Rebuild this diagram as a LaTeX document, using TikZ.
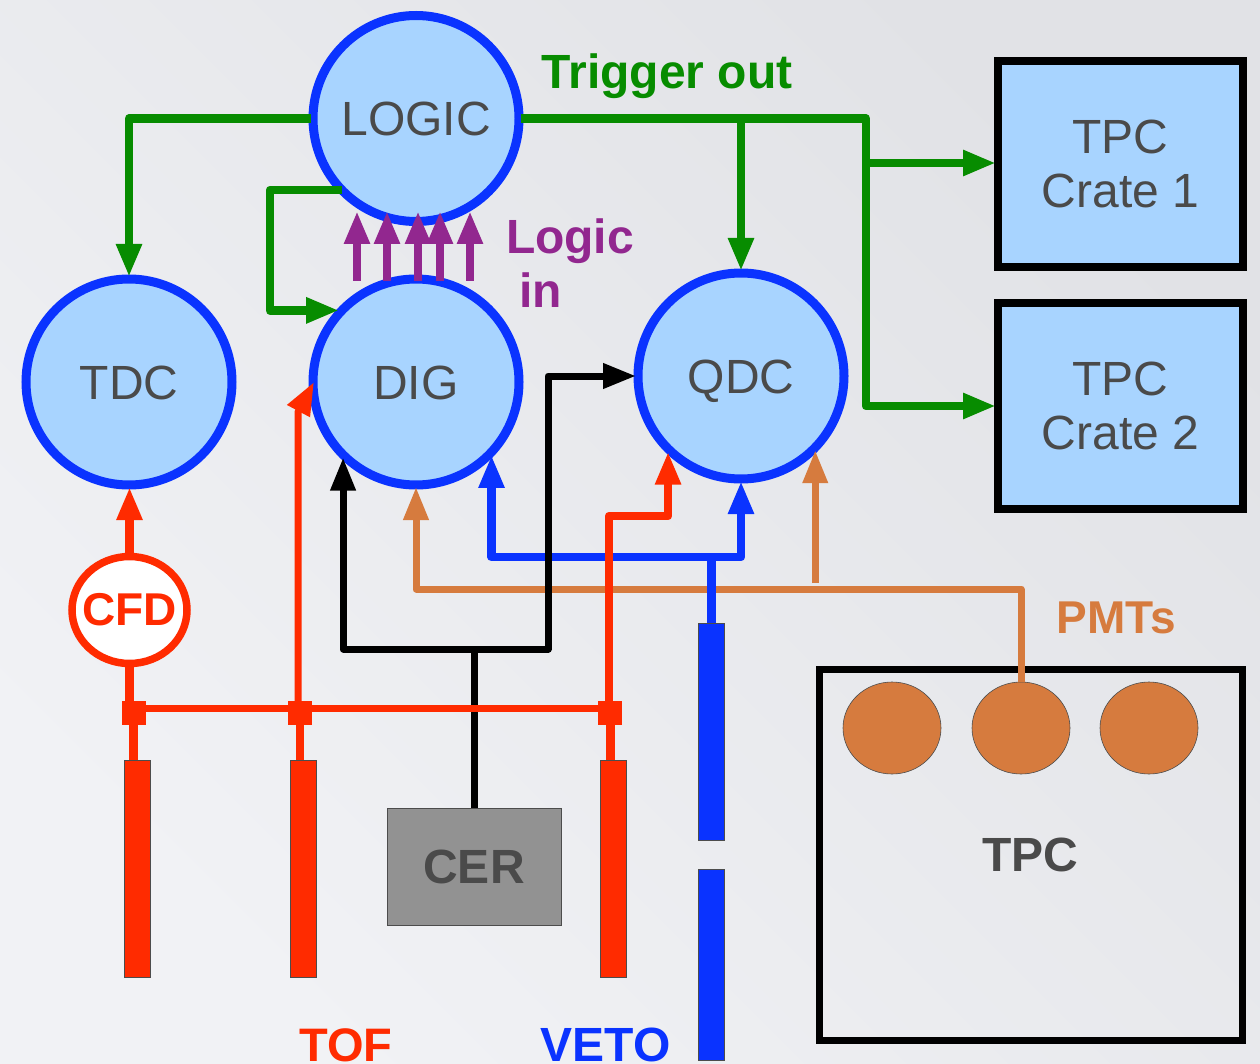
\documentclass[tikz,border=0pt]{standalone}
\usepackage{fontspec}
\setmainfont{Liberation Sans}
\usetikzlibrary{arrows.meta, shapes.geometric}
\definecolor{backtop}{HTML}{E1E2E6}
\definecolor{backbot}{HTML}{F1F2F5}
\definecolor{ringblue}{HTML}{0A33FF}
\definecolor{fillblue}{HTML}{A8D4FF}
\definecolor{textgrey}{HTML}{4A4A4A}
\definecolor{trigreen}{HTML}{078C00}
\definecolor{logicpurple}{HTML}{92278F}
\definecolor{tofred}{HTML}{FF2B00}
\definecolor{pmtorange}{HTML}{D67B3E}
\definecolor{cergrey}{HTML}{929292}
\newcommand{\bigfont}{\fontsize{48}{54}\selectfont}
\begin{document}
\begin{tikzpicture}[x=1pt, y=-1pt,
	main/.style = {draw=ringblue, fill=fillblue, circle, line width=9pt, minimum size=206pt, inner sep=0pt, outer sep=2pt, text=textgrey, font=\bigfont, text height=34.5pt, text depth=0pt},
	crate/.style = {draw=black, fill=fillblue, line width=7.5pt, minimum width=245pt, minimum height=206pt, inner sep=0pt, outer sep=2pt, text=textgrey, font=\bigfont, align=center},
	bar/.style = {draw=black!70, line width=0.6pt, inner sep=0pt, minimum width=26pt, minimum height=217pt},
	pmt/.style = {draw=black!70, fill=pmtorange, ellipse, line width=0.6pt, inner sep=0pt, minimum width=98pt, minimum height=92pt},
	joint/.style = {fill=tofred, inner sep=0pt, minimum size=24pt},
	label/.style = {font=\bfseries\bigfont},
	wire/.style = {line width=8.5pt, line join=round, -{Triangle[length=33pt, width=24pt]}},
	plain/.style = {line width=8.5pt, line join=round}]
	\useasboundingbox (0,0) rectangle (1260,1064);
	\shade[top color=backtop, bottom color=backbot, shading angle=-45] (0,0) rectangle (1260,1064);

	\node[main] (logic) at (416,118.5) {LOGIC};
	\node[main] (tdc) at (129,382) {TDC};
	\node[main] (dig) at (416,382) {DIG};
	\node[main] (qdc) at (741,376) {QDC};
	\node[crate] (crate1) at (1120.5,164) {TPC\\Crate 1};
	\node[crate] (crate2) at (1120.5,406) {TPC\\Crate 2};
	\node[draw=tofred, fill=white, ellipse, line width=7.5pt, inner sep=0pt, minimum width=115pt, minimum height=107pt] (cfd) at (129.5,610) {};
	\node[text=tofred, font=\bfseries\fontsize{46}{50}\selectfont] (cfdlabel) at (cfd) {CFD};

	\node[bar, fill=tofred] (tof1) at (137,868.5) {};
	\node[bar, fill=tofred] (tof2) at (303,868.5) {};
	\node[bar, fill=tofred] (tof3) at (613,868.5) {};
	\node[bar, fill=ringblue] (veto1) at (711.5,732) {};
	\node[bar, fill=ringblue, minimum height=191pt] (veto2) at (711.5,964.5) {};
	\node[draw=black!70, fill=cergrey, line width=0.6pt, minimum width=174pt, minimum height=117pt, inner sep=0pt, text=textgrey, label] (cer) at (474,866.5) {CER};

	\node[draw=black, line width=7.5pt, minimum width=423pt, minimum height=371pt, inner sep=0pt] (tpc) at (1031,855) {};
	\node[pmt] (pmt1) at (892,728) {};
	\node[pmt] (pmt2) at (1021,728) {};
	\node[pmt] (pmt3) at (1149,728) {};
	\node[label, text=textgrey] (tpclabel) at (1030,855) {TPC};

	\node[label, text=trigreen] (trig) at (667,76) {Trigger out};
	\node[label, text=logicpurple, align=left] (login) at (570,263) {Logic\\\hspace{13pt}in};
	\node[label, text=pmtorange, font=\bfseries\fontsize{46}{50}\selectfont] (pmts) at (1116,618) {PMTs};
	\node[label, text=tofred, font=\bfseries\fontsize{47}{50}\selectfont, text height=33pt, text depth=0pt] (toflabel) at (346,1045) {TOF};
	\node[label, text=ringblue, text height=33pt, text depth=0pt] (vetolabel) at (605.5,1045) {VETO};

	% trigger
	\coordinate (trigq) at (741,118.5);
	\coordinate (trigr) at (866,118.5);
	\coordinate (trigc) at (866,163);
	\draw[wire, trigreen] (logic.west) -| (tdc.north);
	\draw[wire, trigreen] (logic.east) -- (trigr) |- (crate2.west);
	\draw[wire, trigreen] (trigq) -- (qdc.north);
	\draw[wire, trigreen] (trigc) -- (crate1.west |- trigc);
	\coordinate (loopa) at (342,190);
	\draw[wire, trigreen] (loopa) -- (270,190) |- (dig.137);

	% pmts
	\coordinate (orj) at (815,583);
	\draw[wire, pmtorange, line width=7pt] (pmt2.north) -- (1021,589) -- (416,589) -- (dig.south);
	\draw[wire, pmtorange, line width=7pt] (qdc.315 |- orj) -- (qdc.315);

	% veto
	\coordinate (vetoj) at (711.5,557);
	\draw[plain, ringblue] (veto1.north) -- (vetoj);
	\draw[wire, ringblue] (vetoj) -| (dig.316);
	\draw[wire, ringblue] (vetoj) -| (qdc.south);

	% cerenkov
	\coordinate (cerj) at (474,649);
	\draw[plain, black, line width=7pt] (cer.north) -- (cerj);
	\draw[wire, black, line width=7pt] (cerj) -| (dig.226);
	\draw[wire, black, line width=7pt] (cerj) -- (548,649) |- (qdc.west);

	% tof
	\coordinate (bus) at (0,708);
	\node[joint] (j1) at (133.5,713) {};
	\node[joint] (j2) at (300,713) {};
	\node[joint] (j3) at (610,713) {};
	\draw[plain, tofred, line width=7pt] (j1 |- bus) -- (j3 |- bus);
	\draw[plain, tofred] (j1 |- tof1.north) -- (j1);
	\draw[plain, tofred] (j2 |- tof2.north) -- (j2);
	\draw[plain, tofred, line width=9pt] (j3 |- tof3.north) -- (j3);
	\draw[plain, tofred] (cfd.south) -- (cfd.south |- j1);
	\draw[wire, tofred] (cfd.north) -- (cfd.north |- tdc.south);
	\draw[wire, tofred, line width=7pt] (298,701) -- (298,412) -- ([xshift=3pt]dig.west);
	\coordinate (redup) at (609,516);
	\draw[wire, tofred] (609,701) -- (redup) -| (qdc.226);

	% logic in
	\coordinate (in1) at (357,281);
	\coordinate (in2) at (387,281);
	\coordinate (in3) at (418,281);
	\coordinate (in4) at (440,281);
	\coordinate (in5) at (470,281);
	\draw[wire, logicpurple] (in1) -- (357,211);
	\draw[wire, logicpurple] (in2) -- (387,211);
	\draw[wire, logicpurple] (in3) -- (418,211);
	\draw[wire, logicpurple] (in4) -- (440,211);
	\draw[wire, logicpurple] (in5) -- (470,211);
\end{tikzpicture}
\end{document}
